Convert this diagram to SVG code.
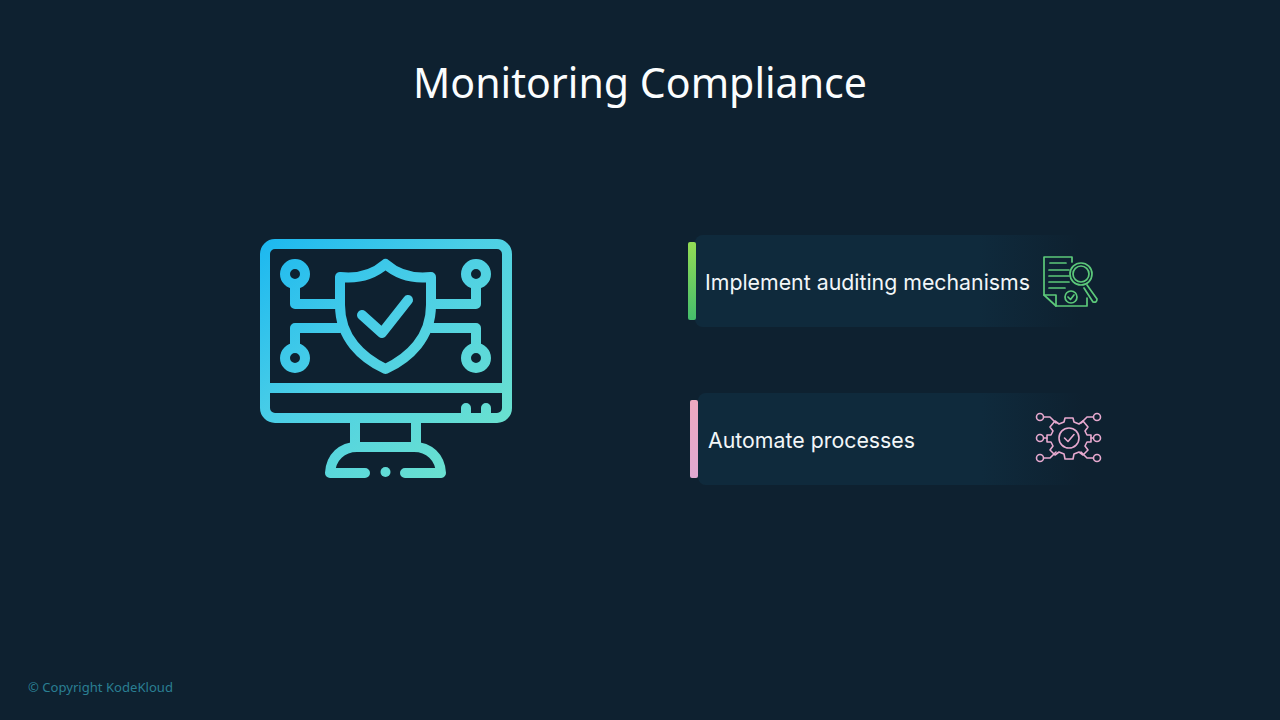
<svg xmlns="http://www.w3.org/2000/svg" width="1280" height="720" viewBox="0 0 1280 720">
<style>
.m{fill:none;stroke:url(#mon);stroke-width:10;stroke-linecap:round;stroke-linejoin:round}
.g{fill:none;stroke:#5cc97a;stroke-width:1.7;stroke-linecap:round;stroke-linejoin:round}
.p{fill:none;stroke:#e7a9cf;stroke-width:1.6;stroke-linecap:round;stroke-linejoin:round}
.t{font-family:"Inter","Liberation Sans",sans-serif;font-size:22px;fill:#f2f6f8}
</style>
<defs>
<linearGradient id="mon" gradientUnits="userSpaceOnUse" x1="262" y1="240" x2="480" y2="478"><stop offset="0" stop-color="#1cb8f0"/><stop offset=".45" stop-color="#4ccfe6"/><stop offset="1" stop-color="#6ee3cc"/></linearGradient>
<linearGradient id="panel" x1="0" x2="1" y1="0" y2="0"><stop offset="0" stop-color="#0f2a3c"/><stop offset=".7" stop-color="#0f2a3c"/><stop offset=".95" stop-color="#0f2a3c" stop-opacity="0"/></linearGradient>
<linearGradient id="barG" x1="0" x2="0" y1="0" y2="1"><stop offset="0" stop-color="#93dc55"/><stop offset="1" stop-color="#45bd6c"/></linearGradient>
<linearGradient id="barP" x1="0" x2="0" y1="0" y2="1"><stop offset="0" stop-color="#eea9c0"/><stop offset="1" stop-color="#e0a9d2"/></linearGradient>
</defs>
<rect width="1280" height="720" fill="#0e2130"/>
<text id="title" x="640" y="98" text-anchor="middle" font-family="'Noto Sans','Open Sans',sans-serif" font-size="42" fill="#fbfdfe" textLength="454" lengthAdjust="spacingAndGlyphs">Monitoring Compliance</text>
<g id="monitor">
<rect class="m" x="265" y="244" width="242" height="174" rx="10"/>
<path class="m" d="M265 388H507M466 408V416M486 408V416M355 420V445M416 420V445M365 473H330C331 457 342 447 357 447H414C429 447 440 457 441 473H405"/>
<path class="m" d="M385.500 264C373 275 358 279 340 277V305C340 338 362 358 385.500 369C409 358 431 338 431 305V277C413 279 398 275 385.500 264Z"/>
<path class="m" d="M362 315L382 333L408 300"/>
<circle class="m" cx="295" cy="274" r="10"/><circle class="m" cx="476" cy="274" r="10"/><circle class="m" cx="295" cy="358" r="10"/><circle class="m" cx="476" cy="358" r="10"/>
<path class="m" d="M295 284V304H340M476 284V304H431M295 348V328H340M476 348V328H431"/>
<circle cx="385.500" cy="472" r="5" fill="url(#mon)"/>
</g>
<g id="item-audit">
<rect x="695" y="235" width="405" height="92" rx="8" fill="url(#panel)"/>
<rect x="688" y="242" width="8" height="78" rx="2" fill="url(#barG)"/>
<text class="t" x="705" y="290" textLength="325" lengthAdjust="spacingAndGlyphs">Implement auditing mechanisms</text>
<g id="icon-audit">
<path class="g" d="M1072 262V257H1044V295L1056 306H1087V298"/>
<path class="g" d="M1044 295H1056V306"/>
<path class="g" d="M1050 263H1066M1049 270H1069M1049 276H1069M1049 282H1069M1049 288H1065"/>
<circle class="g" cx="1081" cy="274" r="11"/><circle class="g" cx="1081" cy="274" r="8"/>
<path class="g" d="M1087 285L1097 299Q1097 303 1093 302L1084 288"/>
<circle class="g" cx="1071" cy="297" r="6"/><path class="g" d="M1068 297L1070.500 299.500L1074 295"/>
</g>
</g>
<g id="item-automate">
<rect x="698" y="393" width="405" height="92" rx="8" fill="url(#panel)"/>
<rect x="690" y="400" width="8" height="78" rx="2" fill="url(#barP)"/>
<text class="t" x="708" y="448" textLength="207" lengthAdjust="spacingAndGlyphs">Automate processes</text>
<g id="icon-automate">
<path class="p" d="M1065 418H1073L1074 422L1079 424L1083 421L1088 427L1085 431L1087 435H1091V442H1087L1085 446L1088 450L1083 455L1079 452L1074 454L1073 459H1065L1064 454L1059 452L1055 455L1050 450L1053 446L1051 442H1047V435H1051L1053 431L1050 427L1055 421L1059 424L1064 422Z"/>
<circle class="p" cx="1069" cy="438" r="10"/><path class="p" d="M1064.500 438L1068 441.500L1074 434.500"/>
<circle class="p" cx="1040" cy="417" r="3.500"/><circle class="p" cx="1040" cy="438" r="3.500"/><circle class="p" cx="1040" cy="458" r="3.500"/>
<circle class="p" cx="1097" cy="417" r="3.500"/><circle class="p" cx="1097" cy="438" r="3.500"/><circle class="p" cx="1097" cy="458" r="3.500"/>
<path class="p" d="M1044 417H1050L1056 423M1044 438H1047M1044 458H1050L1056 452M1093 417H1087L1081 423M1093 438H1091M1093 458H1087L1081 452"/>
</g>
</g>
<text id="footer" x="28" y="692" font-family="'Noto Sans','Open Sans',sans-serif" font-size="13" fill="#2a7f93" textLength="145" lengthAdjust="spacingAndGlyphs">© Copyright KodeKloud</text>
</svg>
